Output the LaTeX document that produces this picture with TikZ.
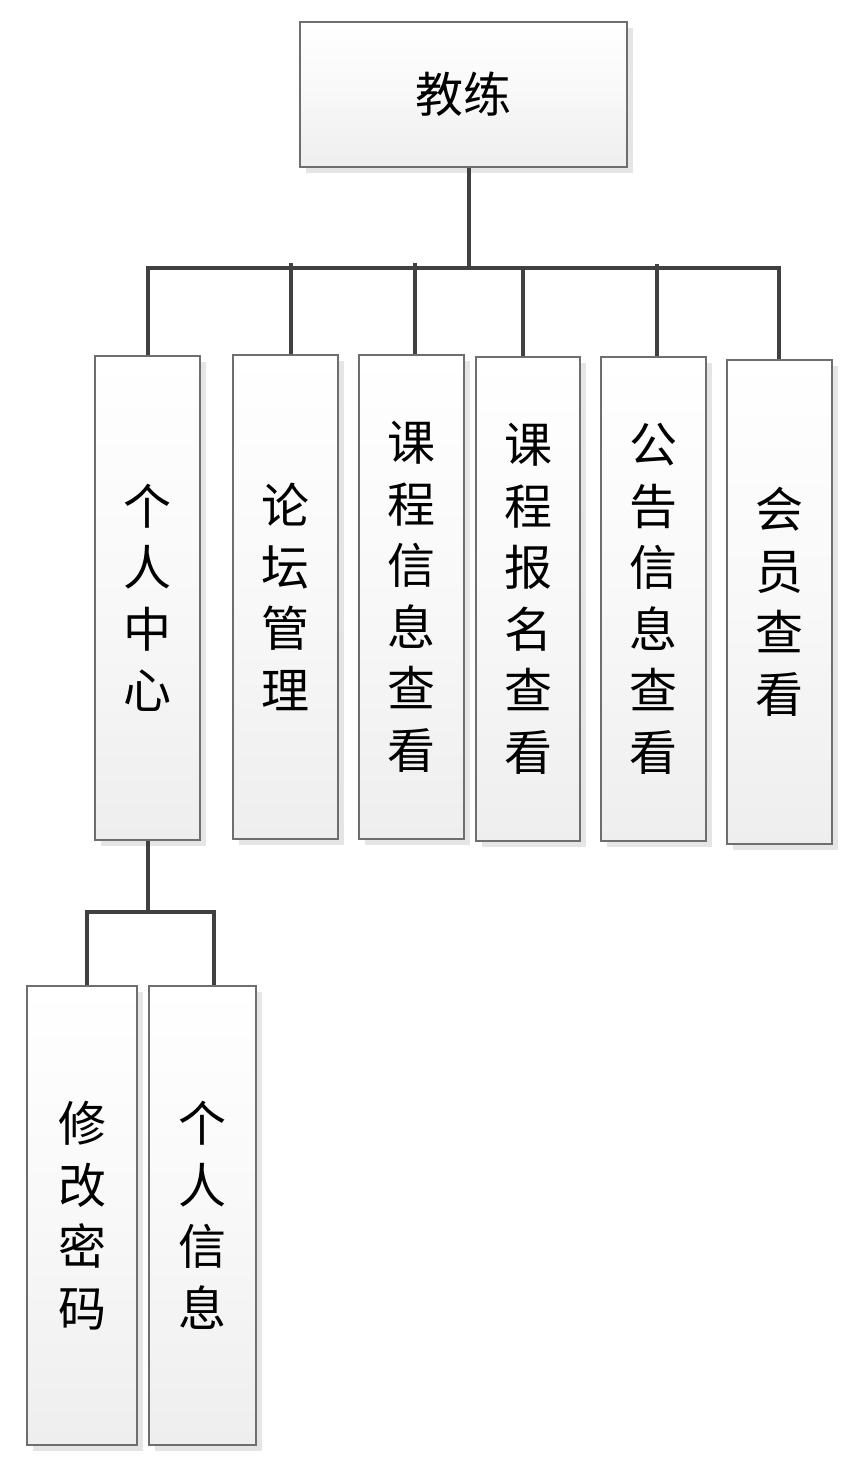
\documentclass[tikz,border=0pt]{standalone}
\usepackage{fontspec}
\newfontfamily\cjk{Noto Sans CJK SC}
\usetikzlibrary{shadows}
\definecolor{boxline}{RGB}{110,110,110}
\definecolor{connc}{RGB}{64,64,64}
\definecolor{shadowc}{RGB}{229,229,229}
\definecolor{boxbot}{RGB}{238,238,238}
\tikzset{
  box/.style={draw=boxline, line width=1.4pt, rectangle, inner sep=0pt,
    top color=white, bottom color=boxbot, middle color=boxbot!40,
    drop shadow={shadow xshift=6pt, shadow yshift=-6pt, fill=shadowc, opacity=1},
    align=center, font=\cjk\fontsize{48}{61.5}\selectfont, text=black},
  conn/.style={draw=connc, line width=4.5pt}
}
\begin{document}
\begin{tikzpicture}[x=1pt,y=-1pt]
\useasboundingbox (0,0) rectangle (855,1474);
% top
\node[box, minimum width=327pt, minimum height=145pt] (top) at (463.5,94.5) {教练};
% second row
\node[box, minimum width=105pt, minimum height=484pt] (n1) at (147.5,598) {个\\人\\中\\心};
\node[box, minimum width=105pt, minimum height=484pt] (n2) at (285.5,597) {论\\坛\\管\\理};
\node[box, minimum width=105pt, minimum height=484pt] (n3) at (411.5,597) {课\\程\\信\\息\\查\\看};
\node[box, minimum width=104pt, minimum height=484pt] (n4) at (528,599) {课\\程\\报\\名\\查\\看};
\node[box, minimum width=105pt, minimum height=484pt] (n5) at (653.5,599) {公\\告\\信\\息\\查\\看};
\node[box, minimum width=105pt, minimum height=484pt] (n6) at (779.5,602) {会\\员\\查\\看};
% third row
\node[box, minimum width=110pt, minimum height=459pt] (m1) at (82,1215.5) {修\\改\\密\\码};
\node[box, minimum width=107pt, minimum height=459pt] (m2) at (202.5,1215.5) {个\\人\\信\\息};
% connectors
\coordinate (bus) at (0,268);
\coordinate (x1) at (148,0);
\coordinate (x6) at (779,0);
\draw[conn] (top.south -| 469,0) -- (469,270);
\draw[conn] (x1 |- n1.north) -- (x1 |- bus) -- (x6 |- bus) -- (x6 |- n6.north);
\coordinate (b2) at (291,263);
\coordinate (b3) at (415,263);
\coordinate (b4) at (523,266);
\coordinate (b5) at (657,264);
\draw[conn] (b2) -- (b2 |- n2.north);
\draw[conn] (b3) -- (b3 |- n3.north);
\draw[conn] (b4) -- (b4 |- n4.north);
\draw[conn] (b5) -- (b5 |- n5.north);
% lower
\coordinate (bus2) at (0,912);
\coordinate (y1) at (87,0);
\coordinate (y2) at (214,0);
\draw[conn] (n1.south -| x1) -- (x1 |- bus2);
\draw[conn] (y1 |- m1.north) -- (y1 |- bus2) -- (y2 |- bus2) -- (y2 |- m2.north);
\end{tikzpicture}
\end{document}
